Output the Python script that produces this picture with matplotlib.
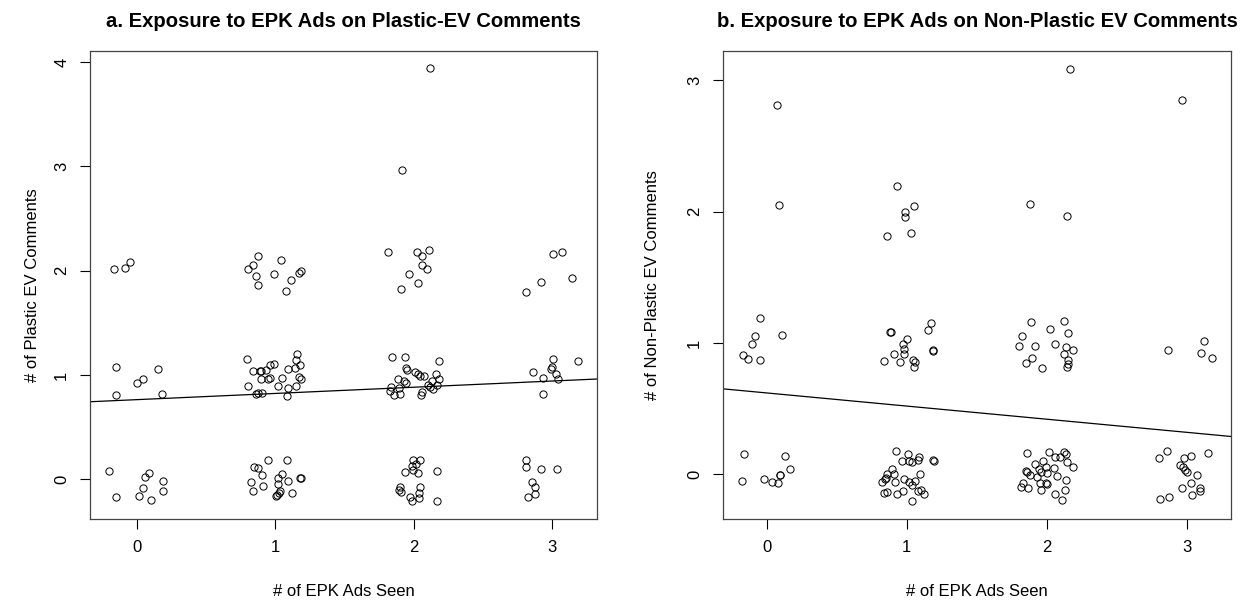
import matplotlib
matplotlib.use("Agg")
import matplotlib.pyplot as plt

plt.rcParams['font.family'] = ['Liberation Sans', 'DejaVu Sans']

# panel a: jittered (ads seen, plastic-EV comments)
a_x = [-0.163, -0.086, -0.048,
       -0.149, -0.149, 0.005, 0.048, 0.156, 0.18,
       -0.199, -0.149, 0.019, 0.1, 0.048, 0.058, 0.089, 0.187, 0.187,
       0.803, 0.839, 0.88, 0.863, 0.88, 0.99, 1.046, 1.113, 1.077, 1.175, 1.189,
       0.794, 0.839, 0.892, 0.9, 0.936, 0.962, 0.99, 0.9, 0.952, 0.96, 1.05, 1.096,
       1.156, 1.149, 1.144, 1.177, 1.173, 1.19, 1.021, 1.093, 1.149, 0.803, 0.863,
       0.88, 0.906, 1.084,
       0.947, 1.084, 0.844, 0.875, 0.902, 0.825, 0.839, 0.909, 1.021, 1.05, 1.096,
       1.185, 1.18, 1.021, 1.033, 1.014, 1.007, 1.026, 1.12,
       1.813, 2.024, 2.062, 2.115, 2.062, 2.096, 1.967, 2.033, 1.911, 1.92, 2.12,
       1.845, 1.935, 1.947, 1.952, 2.014, 2.029, 2.048, 2.079, 2.187, 2.163, 2.182,
       2.132, 2.103, 2.12, 2.172, 1.885, 1.933, 1.947, 1.837, 1.828, 1.856, 1.904,
       1.895, 2.062, 2.053, 2.139,
       1.995, 2.048, 1.986, 2.019, 1.935, 1.995, 2.029, 2.167, 1.9, 1.909, 1.892,
       2.043, 2.036, 1.971, 1.988, 2.036, 2.167,
       3.005, 3.072, 3.141, 2.919, 2.813,
       3.005, 3.0, 2.995, 3.029, 3.041, 2.933, 2.861, 3.187, 2.935,
       2.813, 2.809, 2.919, 3.033, 2.852, 2.876, 2.876, 2.828]
a_y = [2.013, 2.023, 2.083,
       1.08, 0.81, 0.92, 0.96, 1.06, 0.82,
       0.08, -0.17, -0.16, -0.2, -0.08, 0.02, 0.06, -0.02, -0.11,
       2.013, 2.055, 2.14, 1.95, 1.86, 1.97, 2.10, 1.91, 1.81, 1.975, 1.994,
       1.153, 1.04, 1.04, 1.04, 1.05, 1.10, 1.11, 0.96, 0.96, 0.97, 0.97, 1.06,
       1.205, 1.14, 1.07, 1.10, 0.985, 0.96, 0.898, 0.873, 0.894, 0.894, 0.818,
       0.83, 0.83, 0.798,
       0.185, 0.19, 0.118, 0.109, 0.039, -0.03, -0.11, -0.06, 0.01, 0.048, -0.02,
       0.013, 0.01, -0.04, -0.11, -0.15, -0.158, -0.13, -0.135,
       2.176, 2.176, 2.144, 2.198, 2.055, 2.013, 1.965, 1.885, 1.82, 2.97, 3.94,
       1.172, 1.172, 1.064, 1.048, 1.026, 1.010, 0.994, 0.994, 1.134, 1.006, 0.962,
       0.946, 0.904, 0.888, 0.904, 0.958, 0.946, 0.92, 0.888, 0.85, 0.808, 0.818,
       0.878, 0.84, 0.808, 0.862,
       0.185, 0.19, 0.13, 0.143, 0.07, 0.089, 0.057, 0.08, -0.071, -0.119, -0.103,
       -0.071, -0.135, -0.173, -0.205, -0.183, -0.205,
       2.157, 2.176, 1.933, 1.89, 1.8,
       1.153, 1.073, 1.055, 1.01, 0.962, 0.971, 1.029, 1.134, 0.818,
       0.185, 0.12, 0.098, 0.098, -0.022, -0.077, -0.144, -0.173]

# panel b: jittered (ads seen, non-plastic EV comments)
b_x = [-0.168, -0.137, -0.108, -0.086, -0.046, -0.046, 0.11, 0.073, 0.091,
       -0.161, -0.177, -0.017, 0.041, 0.084, 0.094, 0.098, 0.13, 0.165,
       0.932, 0.987, 0.987, 1.054, 0.857, 1.032,
       0.835, 0.878, 0.887, 0.911, 0.954, 0.971, 0.981, 0.978, 1.002, 1.046, 1.055,
       1.058, 1.153, 1.175, 1.185, 1.189,
       0.926, 0.964, 1.012, 1.017, 1.036, 1.089, 1.079, 1.187, 1.194, 0.894, 0.911,
       0.856, 0.851, 0.844, 0.827, 0.918, 0.978, 1.019, 1.062, 1.094, 1.036, 0.974,
       0.933, 0.837, 0.856, 1.079, 1.103, 1.122, 1.038,
       1.878, 2.148, 2.163,
       1.89, 2.021, 2.124, 2.155, 1.821, 1.802, 1.917, 2.06, 2.138, 2.188, 2.126,
       2.152, 2.152, 2.148, 1.898, 1.852, 1.964,
       1.86, 2.014, 2.062, 2.098, 2.124, 2.138, 2.148, 2.188, 1.919, 1.974, 1.995,
       2.05, 1.852, 1.862, 1.943, 1.957, 2.005, 1.881, 1.933, 2.074, 1.952, 1.995,
       2.002, 2.14, 1.814, 1.829, 1.869, 1.957, 2.062, 2.131, 2.112,
       2.968, 2.869, 3.126, 3.105, 3.183,
       2.802, 2.857, 2.983, 3.029, 2.952, 2.976, 2.988, 3.002, 3.074, 3.15, 3.029,
       2.969, 3.038, 3.098, 3.098, 2.81, 2.874]
b_y = [0.91, 0.878, 0.99, 1.05, 0.87, 1.19, 1.058, 2.813, 2.053,
       0.153, -0.049, -0.039, -0.059, -0.064, -0.008, -0.005, 0.137, 0.041,
       2.197, 2.0, 1.957, 2.045, 1.813, 1.838,
       0.862, 1.086, 1.081, 0.913, 0.857, 0.992, 0.954, 0.913, 1.033, 0.868, 0.816,
       0.857, 1.096, 1.152, 0.949, 0.941,
       0.178, 0.102, 0.153, 0.102, 0.096, 0.135, 0.109, 0.109, 0.104, 0.041, 0.0,
       0.003, -0.025, -0.038, -0.056, -0.061, -0.033, -0.061, -0.054, 0.006, -0.084,
       -0.13, -0.151, -0.143, -0.138, -0.124, -0.12, -0.151, -0.2,
       2.061, 1.967, 3.088,
       1.16, 1.107, 1.17, 1.079, 1.051, 0.98, 0.98, 0.992, 0.969, 0.944, 0.913,
       0.872, 0.839, 0.816, 0.885, 0.847, 0.807,
       0.161, 0.171, 0.135, 0.13, 0.171, 0.153, 0.092, 0.059, 0.079, 0.102, 0.059,
       0.051, 0.025, 0.015, 0.041, 0.02, 0.008, -0.005, -0.018, -0.013, -0.069,
       -0.069, -0.074, -0.041, -0.095, -0.064, -0.105, -0.12, -0.151, -0.12, -0.194,
       2.854, 0.944, 1.018, 0.921, 0.885,
       0.122, 0.178, 0.127, 0.140, 0.071, 0.059, 0.033, 0.015, -0.005, 0.161, -0.064,
       -0.102, -0.158, -0.107, -0.125, -0.186, -0.176]

# fitted lines (intercept, slope)
a_fit = (0.764, 0.0595)
b_fit = (0.62, -0.10)

titles = ["a. Exposure to EPK Ads on Plastic-EV Comments",
          "b. Exposure to EPK Ads on Non-Plastic EV Comments"]
ylabels = ["# of Plastic EV Comments", "# of Non-Plastic EV Comments"]

fig = plt.figure(figsize=(12.49, 6.01), dpi=100)
ax1 = fig.add_axes([90/1249, 82/601, 507/1249, 468/601])
ax2 = fig.add_axes([723/1249, 82/601, 508/1249, 468/601])

panels = [(ax1, a_x, a_y, a_fit, (-0.337, 3.325), (-0.38, 4.106), [0, 1, 2, 3, 4], -0.114),
          (ax2, b_x, b_y, b_fit, (-0.312, 3.316), (-0.34, 3.224), [0, 1, 2, 3], -0.138)]

for i, (ax, xs, ys, fit, xl, yl, yt, ylx) in enumerate(panels):
    ax.plot(xs, ys, 'o', mfc='none', mec='black', ms=5.2, mew=0.7)
    ax.axline((0, fit[0]), slope=fit[1], color='black', lw=0.9)
    ax.set_xlim(xl)
    ax.set_ylim(yl)
    ax.set_xticks([0, 1, 2, 3])
    ax.set_yticks(yt)
    ax.tick_params(labelsize=12, length=7, width=0.8, pad=8)
    for lab in ax.get_yticklabels():
        lab.set_rotation(90)
        lab.set_va('center')
    for s in ax.spines.values():
        s.set_linewidth(0.9)
        s.set_color('#444444')
    ax.set_title(titles[i], fontsize=14.6, fontweight='bold', pad=17)
    ax.set_xlabel("# of EPK Ads Seen", fontsize=12)
    ax.xaxis.label.set_va('center')
    ax.xaxis.set_label_coords(0.5, -0.155)
    ax.set_ylabel(ylabels[i], fontsize=12)
    ax.yaxis.label.set_va('center')
    ax.yaxis.set_label_coords(ylx, 0.5)

fig.savefig("out.png", dpi=100)
